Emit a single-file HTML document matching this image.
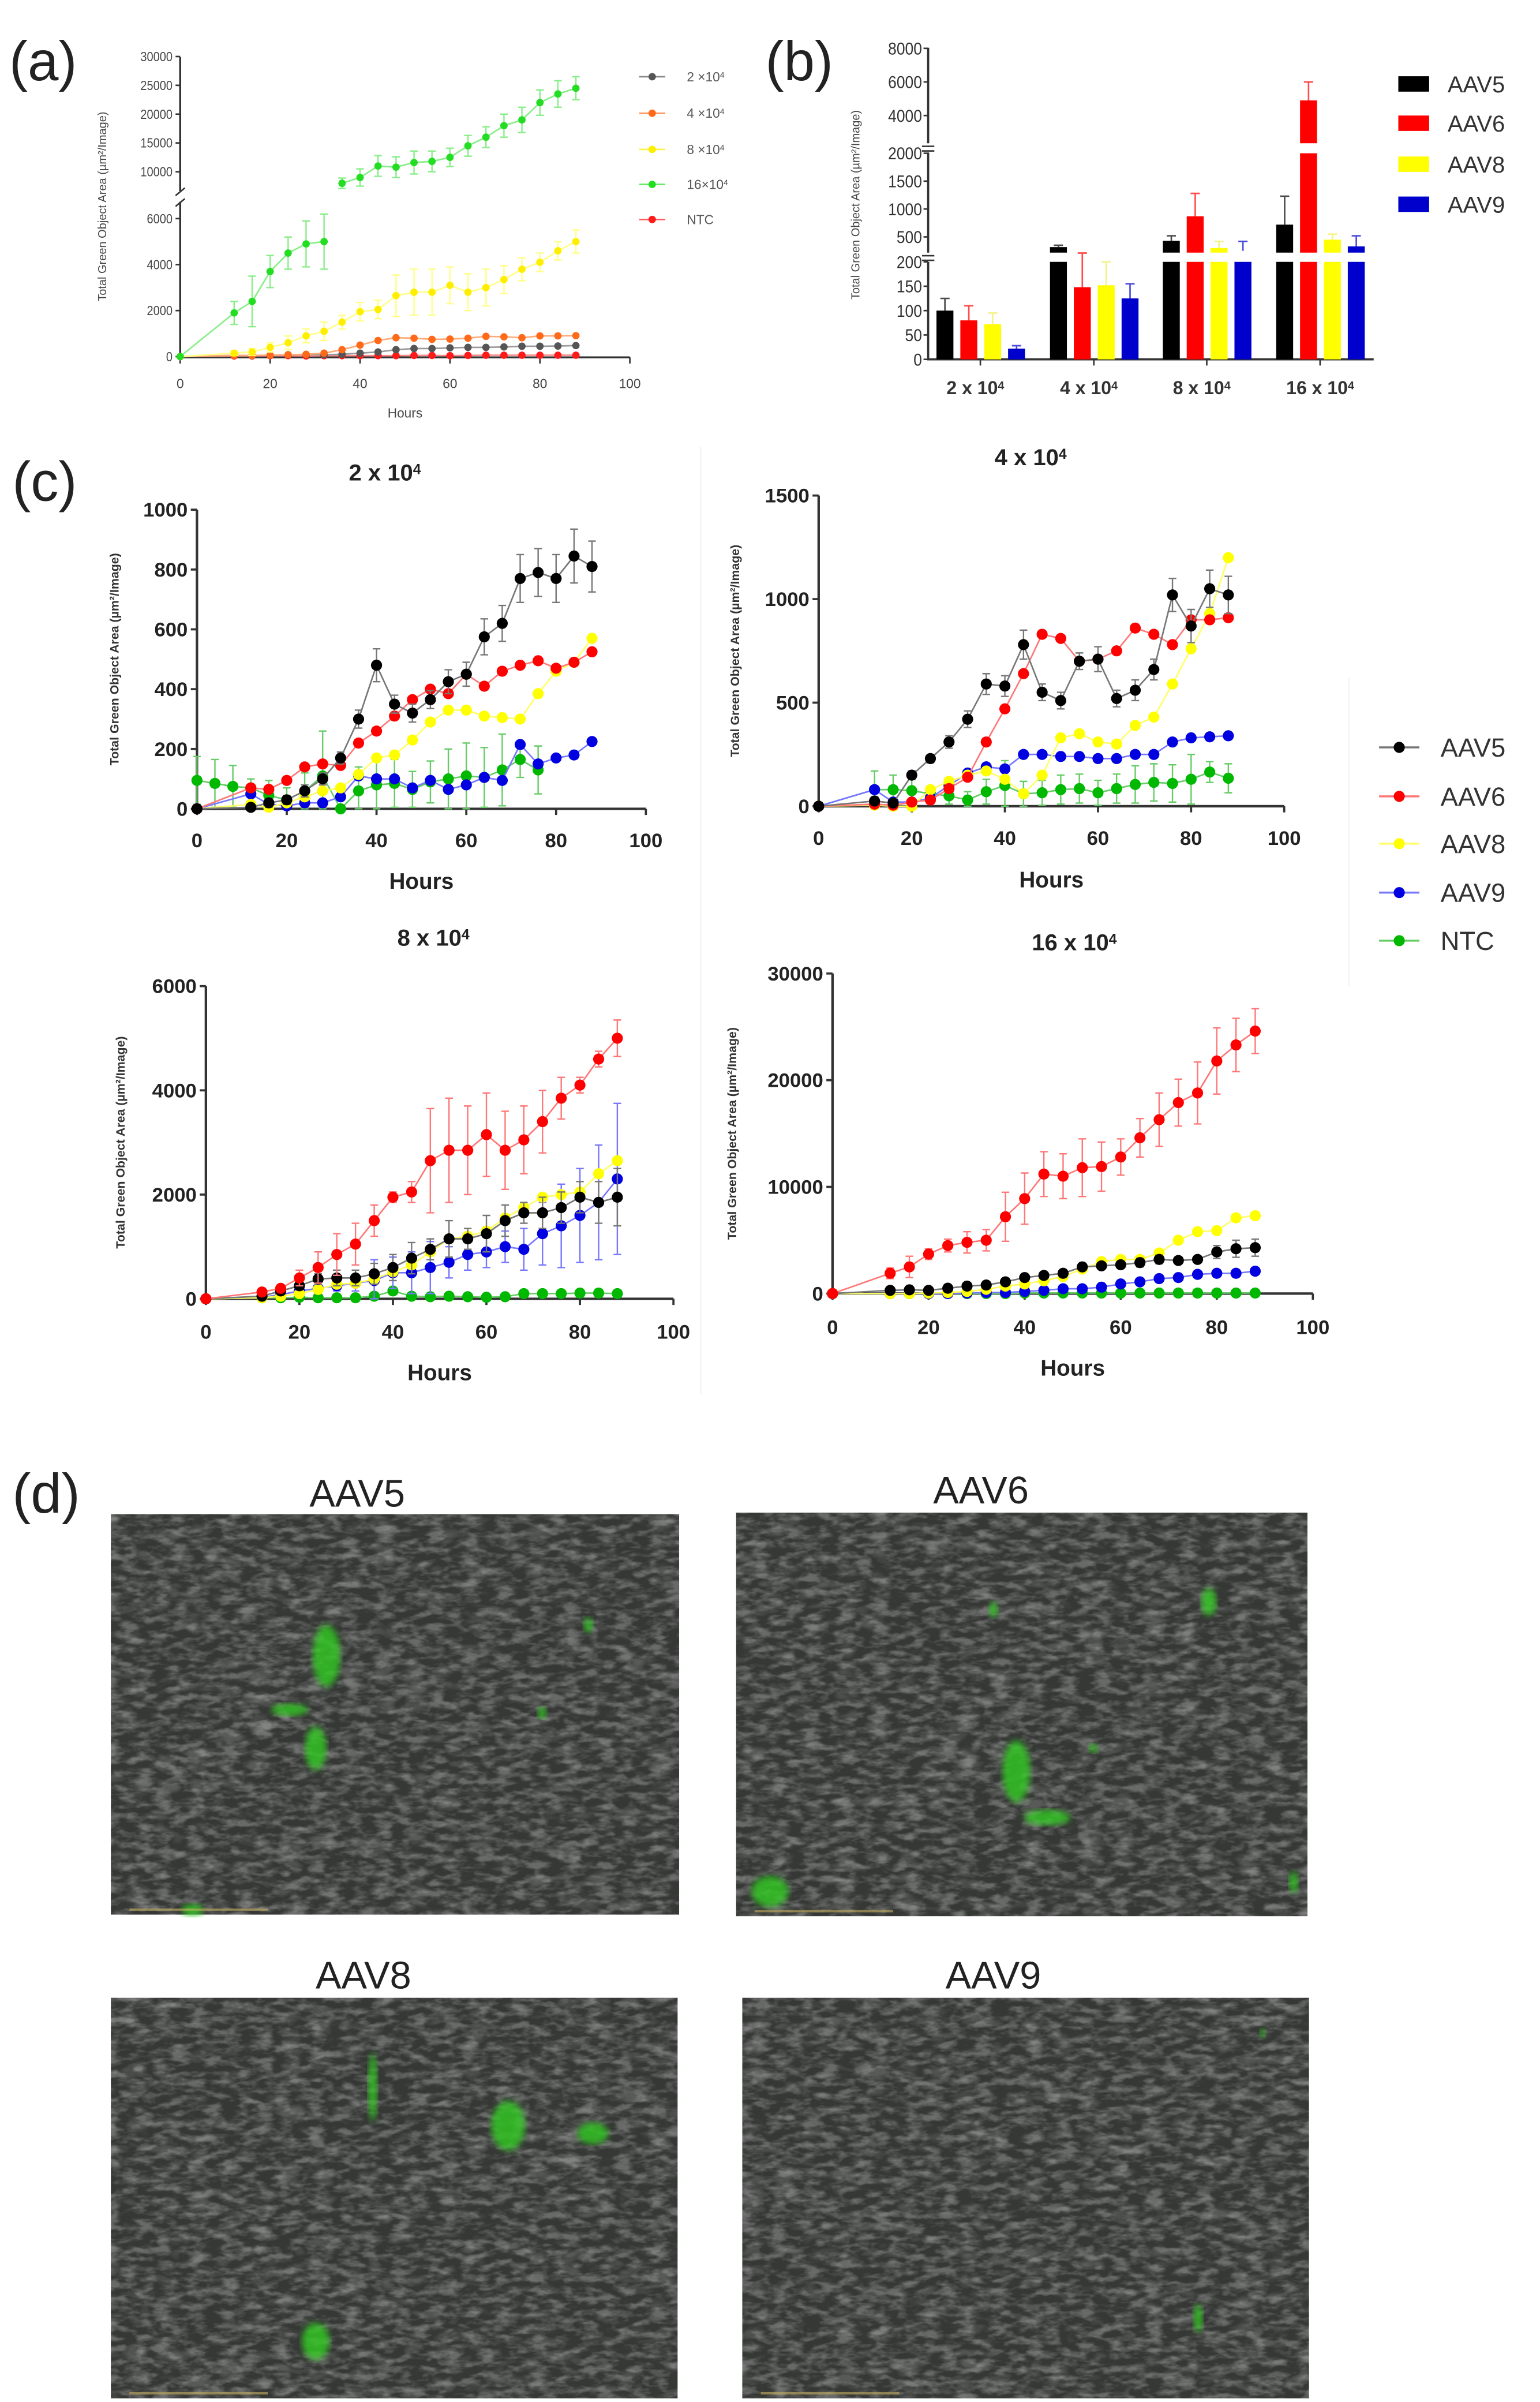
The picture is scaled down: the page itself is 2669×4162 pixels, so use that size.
<!DOCTYPE html>
<html><head><meta charset="utf-8"><title>AAV transduction figure</title>
<style>
html,body{margin:0;padding:0;background:#fff;}
svg{display:block;font-family:"Liberation Sans",sans-serif;}
</style></head>
<body>
<svg id="fig" xmlns="http://www.w3.org/2000/svg" width="2669" height="4162" viewBox="0 0 1000 1559.4" preserveAspectRatio="none">
<defs>
<filter id="tex" x="0" y="0" width="100%" height="100%" filterUnits="objectBoundingBox">
<feTurbulence type="fractalNoise" baseFrequency="0.09 0.22" numOctaves="3" seed="4" result="n"/>
<feColorMatrix in="n" type="matrix" values="0 0 0 0 0.82  0 0 0 0 0.82  0 0 0 0 0.82  3.2 0 0 0 -1.35"/>
</filter>
<filter id="tex2" x="0" y="0" width="100%" height="100%" filterUnits="objectBoundingBox">
<feTurbulence type="turbulence" baseFrequency="0.05 0.12" numOctaves="2" seed="9" result="n"/>
<feColorMatrix in="n" type="matrix" values="0 0 0 0 0.9  0 0 0 0 0.9  0 0 0 0 0.9  2.4 0 0 0 -0.55"/>
</filter>
<filter id="blur"><feGaussianBlur stdDeviation="2"/></filter>
</defs>
<g id="root"></g>
</svg>
<script>
// ---------- Panel (a) data ----------
const hoursA = [0,12,16,20,24,28,32,36,40,44,48,52,56,60,64,68,72,76,80,84,88];
const a2e4 = [0,50,40,60,80,90,80,100,150,200,300,350,350,380,400,400,420,450,450,460,480];
const a4e4 = [0,50,50,60,80,100,150,300,500,700,820,800,750,760,800,880,860,820,900,900,910];
const a8e4 = [0,150,200,400,600,900,1100,1500,1950,2050,2650,2800,2800,3100,2800,3000,3350,3800,4100,4600,5000];
const a16e4 = [0,1900,2400,3700,4500,4900,5000,8000,9000,11000,10800,11600,11800,12500,14500,16000,18000,19000,22000,23500,24500];
const aNTC = [0,30,30,40,40,30,40,40,40,40,40,50,50,40,50,60,60,60,60,60,60];
const a16e4Err = [0,500,1100,700,700,1000,1200,900,1500,1800,1800,2000,1800,1600,1800,1800,2000,2200,2200,2300,2000];
const a8e4Err = [0,100,150,200,300,300,400,300,400,400,900,1000,1000,800,800,800,600,500,400,400,500];
const aTicksY = [0,2000,4000,6000,10000,15000,20000,25000,30000];
const aTicksX = [0,20,40,60,80,100];

// ---------- Panel (b) data ----------
const bCategories = ["2 x 10","4 x 10","8 x 10","16 x 10"];
const bAAV5 = [100,317,430,720];
const bAAV6 = [80,148,870,4900];
const bAAV8 = [72,152,300,450];
const bAAV9 = [22,125,250,330];
// error bar top values
const bAAV5Err = [125,350,520,1230];
const bAAV6Err = [110,210,1280,6000];
const bAAV8Err = [95,200,420,550];
const bAAV9Err = [28,155,420,520];
const bTicks = [0,50,100,150,200,500,1000,1500,2000,4000,6000,8000];

// ---------- Panel (c) data ----------
const hoursC = [0,12,16,20,24,28,32,36,40,44,48,52,56,60,64,68,72,76,80,84,88];
// 2 x 10^4
const c1AAV5 = [0,5,20,30,60,100,170,300,480,350,320,365,425,450,575,620,770,790,770,845,810];
const c1AAV6 = [0,70,65,95,140,150,145,220,260,310,365,400,385,450,410,460,480,495,470,490,525];
const c1AAV8 = [0,15,5,20,40,60,70,115,170,180,230,290,330,330,310,305,300,385,460,490,570];
const c1AAV9 = [0,50,15,10,20,20,40,110,100,100,70,95,65,80,105,95,215,150,170,180,225];
const c1NTCHours = [0,4,8,12,16,20,24,28,32,36,40,44,48,52,56,60,64,68,72,76];
const c1NTC = [95,85,75,70,45,30,60,110,0,60,80,85,65,90,100,110,105,130,165,130];
const c1AAV5Err = [0,10,15,15,20,20,20,30,55,30,30,30,40,40,60,60,80,80,80,90,85];
const c1NTCErr = [80,80,70,30,50,40,60,150,0,80,90,80,60,70,100,110,100,120,60,80];
// 4 x 10^4
const c2AAV5 = [0,25,15,150,230,310,420,590,580,780,550,510,700,710,520,560,660,1020,870,1050,1020];
const c2AAV6 = [0,10,5,20,30,85,140,310,470,640,830,810,700,710,750,860,830,780,900,900,910];
const c2AAV8 = [0,5,0,0,80,120,150,170,130,60,150,330,350,310,300,390,430,590,760,930,1200];
const c2AAV9 = [0,80,20,20,40,100,160,190,180,250,250,240,240,230,230,250,250,310,330,335,340];
const c2NTC = [0,80,80,75,60,50,30,70,100,60,65,80,85,65,85,105,115,110,130,165,135];
const c2AAV5Err = [0,20,20,20,20,30,40,50,50,70,40,40,40,60,40,50,50,80,80,90,90];
const c2NTCErr = [0,90,70,60,30,40,40,60,120,60,60,70,70,60,70,90,90,90,120,50,70];
// 8 x 10^4
const c3AAV5 = [0,50,150,250,380,400,400,480,600,780,950,1150,1150,1250,1500,1650,1650,1750,1950,1850,1950];
const c3AAV6 = [0,130,200,400,600,850,1050,1500,1950,2050,2650,2850,2850,3150,2850,3050,3400,3850,4100,4600,5000];
const c3AAV8 = [0,20,50,100,180,280,300,380,520,650,900,1150,1200,1300,1550,1750,1950,2000,2050,2400,2650];
const c3AAV9 = [0,30,80,150,200,250,300,350,500,500,600,700,850,900,1000,950,1250,1400,1600,1850,2300];
const c3NTC = [0,20,20,30,20,20,20,50,150,50,40,50,40,30,40,100,100,100,110,110,100];
const c3AAV6Err = [0,50,60,150,300,400,400,300,100,200,1000,1000,850,800,750,650,600,400,150,150,350];
const c3AAV9Err = [0,30,50,80,100,100,150,400,300,400,500,300,300,300,300,400,600,800,900,1100,1450];
const c3AAV5Err = [0,30,60,80,100,150,150,200,250,300,200,350,200,350,300,200,300,300,300,400,550];
// 16 x 10^4
const c4AAV5 = [0,300,350,300,500,700,800,1100,1500,1700,1900,2500,2600,2700,2900,3200,3100,3200,3900,4200,4300];
const c4AAV6 = [0,1900,2500,3700,4500,4800,5000,7200,8900,11200,11000,11800,11900,12800,14600,16300,17900,18800,21800,23300,24600];
const c4AAV8 = [0,0,0,50,100,200,400,700,900,1200,1600,2300,3000,3200,3200,3800,5000,5800,5900,7100,7300];
const c4AAV9 = [0,0,0,0,0,50,100,100,200,300,450,450,600,900,1100,1400,1500,1800,1900,1900,2100];
const c4NTC = [0,0,0,0,0,0,0,0,50,50,50,50,50,50,50,50,50,50,50,50,50];
const c4AAV6Err = [0,500,1000,500,600,1000,1000,2300,2400,2100,2100,2700,2300,1700,1800,2500,2200,2900,3100,2500,2100];
const c4AAV5Err = [0,100,100,100,150,200,200,300,300,300,300,300,300,300,400,400,300,300,600,800,800];
const cTicksX = [0,20,40,60,80,100];

// ---------- helpers ----------
const NS = "http://www.w3.org/2000/svg";
const root = document.getElementById('root');
function mk(tag, attrs, name, parent, inter) {
  const e = document.createElementNS(NS, tag);
  for (const k in attrs) e.setAttribute(k, attrs[k]);
  
  
  (parent || root).appendChild(e);
  return e;
}
function txt(x, y, s, attrs, name, parent) {
  const t = mk('text', Object.assign({x: x, y: y}, attrs), name, parent);
  t.textContent = s;
  return t;
}
function supText(x, y, base, sup, attrs, name, parent) {
  const t = mk('text', Object.assign({x: x, y: y}, attrs), name, parent);
  t.appendChild(document.createTextNode(base));
  const s = document.createElementNS(NS, 'tspan');
  s.setAttribute('dy', '-0.45em');
  s.setAttribute('font-size', '0.62em');
  s.textContent = sup;
  t.appendChild(s);
  return t;
}
const COL = {AAV5:'#000000', AAV6:'#ff0000', AAV8:'#ffff00', AAV9:'#0000e0', NTC:'#00b800'};
const LINE = {AAV5:'#777777', AAV6:'#ff7777', AAV8:'#ffff66', AAV9:'#7777ff', NTC:'#66cc66'};

function series(g, xs, ys, errs, sx, sy, color, lineColor, r, name, skip) {
  let d = '';
  let pen = false;
  for (let i = 0; i < xs.length; i++) {
    if (ys[i] === null) { pen = false; continue; }
    if (skip && i > 0 && skip(ys[i-1], ys[i])) pen = false;
    d += (pen ? 'L' : 'M') + sx(xs[i]).toFixed(2) + ',' + sy(ys[i]).toFixed(2);
    pen = true;
  }
  mk('path', {d: d, fill: 'none', stroke: lineColor, 'stroke-width': 1}, name + '-line', g);
  for (let i = 0; i < xs.length; i++) {
    if (ys[i] === null) continue;
    const cx = sx(xs[i]), cy = sy(ys[i]);
    if (errs && errs[i]) {
      const y1 = sy(ys[i] + errs[i]), y2 = sy(Math.max(0, ys[i] - errs[i]));
      mk('path', {d: `M${cx},${y1}V${y2}M${cx-2.5},${y1}h5M${cx-2.5},${y2}h5`, stroke: lineColor, 'stroke-width': 0.9, fill: 'none'}, name + '-error-bar', g);
    }
    mk('circle', {cx: cx, cy: cy, r: r, fill: color}, name + '-point', g);
  }
}

function lineChart(cfg) {
  const g = mk('g', {}, cfg.name, root);
  const sx = h => cfg.x0 + (cfg.x100 - cfg.x0) * h / 100;
  const sy = v => cfg.y0 - (cfg.y0 - cfg.yTop) * v / cfg.ymax;
  mk('path', {d: `M${cfg.x0},${cfg.yTop}V${cfg.y0}H${cfg.x100}`, fill: 'none', stroke: '#333', 'stroke-width': 1.6}, 'axes', g);
  cfg.yticks.forEach(v => {
    mk('line', {x1: cfg.x0 - 4, x2: cfg.x0, y1: sy(v), y2: sy(v), stroke: '#333', 'stroke-width': 1.4}, 'y-tick', g);
    txt(cfg.x0 - 6, sy(v) + 4.5, String(v), {'font-size': 13, 'font-weight': 'bold', fill: '#222', 'text-anchor': 'end'}, 'y-tick-label', g);
  });
  cTicksX.forEach(h => {
    mk('line', {x1: sx(h), x2: sx(h), y1: cfg.y0, y2: cfg.y0 + 4, stroke: '#333', 'stroke-width': 1.4}, 'x-tick', g);
    txt(sx(h), cfg.tickY, String(h), {'font-size': 13, 'font-weight': 'bold', fill: '#222', 'text-anchor': 'middle'}, 'x-tick-label', g);
  });
  txt((cfg.x0 + cfg.x100) / 2, cfg.hoursY, 'Hours', {'font-size': 14.5, 'font-weight': 'bold', fill: '#222', 'text-anchor': 'middle'}, 'x-axis-title', g);
  supText(cfg.titleX - 28, cfg.titleY, cfg.title, '4', {'font-size': 15, 'font-weight': 'bold', fill: '#222'}, 'chart-title', g);
  txt(0, 0, 'Total Green Object Area (µm²/Image)', {'font-size': 8, 'font-weight': 'bold', fill: '#333', 'text-anchor': 'middle', transform: `translate(${cfg.ylabX},${(cfg.y0 + cfg.yTop) / 2}) rotate(-90)`}, 'y-axis-title', g);
  cfg.series.forEach(s => {
    series(g, s.x || hoursC, s.y, s.err, sx, sy, COL[s.k], LINE[s.k], 3.6, 'series-' + s.k.toLowerCase());
  });
}

// ---------- panel labels ----------
[['(a)', 6, 52], ['(b)', 497, 52], ['(c)', 8, 325], ['(d)', 8, 982]].forEach(p => {
  txt(p[1], p[2], p[0], {'font-size': 36, fill: '#222'}, 'panel-label');
});

// ---------- panel (a) ----------
(function () {
  const g = mk('g', {}, 'panel-a-chart', root);
  const x0 = 117, x100 = 409;
  const sx = h => x0 + (x100 - x0) * h / 100;
  const sy = v => v <= 6500 ? 231.5 - v * 0.01493 : 111.5 - (v - 10000) * 0.00374;
  mk('path', {d: `M${x0},37V124M${x0},131V232H${x100}`, fill: 'none', stroke: '#333', 'stroke-width': 1.3}, 'axes', g);
  mk('path', {d: `M${x0-3},127l6,-5M${x0-3},134l6,-5`, stroke: '#333', 'stroke-width': 1}, 'axis-break', g);
  aTicksY.forEach(v => {
    mk('line', {x1: x0 - 3, x2: x0, y1: sy(v), y2: sy(v), stroke: '#333', 'stroke-width': 1}, 'y-tick', g);
    txt(x0 - 5, sy(v) + 3, String(v), {'font-size': 8.5, fill: '#444', 'text-anchor': 'end', transform: `translate(${(x0-5)*0.12},0) scale(0.88,1)`}, 'y-tick-label', g);
  });
  aTicksX.forEach(h => {
    mk('line', {x1: sx(h), x2: sx(h), y1: 232, y2: 236, stroke: '#333', 'stroke-width': 1}, 'x-tick', g);
    txt(sx(h), 252, String(h), {'font-size': 8.5, fill: '#444', 'text-anchor': 'middle'}, 'x-tick-label', g);
  });
  txt(263, 271, 'Hours', {'font-size': 8.5, fill: '#444', 'text-anchor': 'middle'}, 'x-axis-title', g);
  txt(0, 0, 'Total Green Object Area (µm²/Image)', {'font-size': 7.5, fill: '#444', 'text-anchor': 'middle', transform: 'translate(69,134) rotate(-90)'}, 'y-axis-title', g);
  const brk = (a, b) => (a <= 6500) !== (b <= 6500);
  series(g, hoursA, aNTC, null, sx, sy, '#ff1a1a', '#ff8888', 2.4, 'series-ntc');
  series(g, hoursA, a2e4, null, sx, sy, '#555555', '#999999', 2.4, 'series-2e4');
  series(g, hoursA, a4e4, null, sx, sy, '#ff6a1a', '#ffaa77', 2.4, 'series-4e4');
  series(g, hoursA, a8e4, a8e4Err, sx, sy, '#ffee00', '#ffff88', 2.4, 'series-8e4');
  series(g, hoursA, a16e4, a16e4Err, sx, sy, '#22dd22', '#88ee88', 2.4, 'series-16e4', brk);
  const leg = [['2 ×10', '4', '#555555'], ['4 ×10', '4', '#ff6a1a'], ['8 ×10', '4', '#ffee00'], ['16×10', '4', '#22dd22'], ['NTC', '', '#ff1a1a']];
  const ly = [49.8, 73.5, 97, 119.7, 142.5];
  leg.forEach((l, i) => {
    const lg = mk('g', {}, 'legend-entry', g);
    mk('line', {x1: 415, x2: 432, y1: ly[i], y2: ly[i], stroke: l[2], 'stroke-width': 1, opacity: 0.7}, 'legend-line', lg);
    mk('circle', {cx: 423.5, cy: ly[i], r: 2.4, fill: l[2]}, 'legend-marker', lg);
    if (l[1]) supText(446, ly[i] + 3, l[0], l[1], {'font-size': 8.5, fill: '#555'}, 'legend-label', lg);
    else txt(446, ly[i] + 3, l[0], {'font-size': 8.5, fill: '#555'}, 'legend-label', lg);
  });
})();

// ---------- panel (b) ----------
(function () {
  const g = mk('g', {}, 'panel-b-chart', root);
  const xa = 602.7, yb = 233.3;
  const ySeg1 = v => yb - v * 0.3165;
  const ySeg2 = v => 153.8 - (v - 500) * 0.0362;
  const ySeg3 = v => 75 - (v - 4000) * 0.0109;
  const sy = v => v <= 200 ? ySeg1(v) : (v <= 2100 ? ySeg2(v) : ySeg3(v));
  mk('path', {d: `M${xa},31V93M${xa},99V164M${xa},170V${yb}H892`, fill: 'none', stroke: '#333', 'stroke-width': 1.4}, 'axes', g);
  mk('path', {d: `M${xa-4},95h8M${xa-4},98h8M${xa-4},166h8M${xa-4},169h8`, stroke: '#333', 'stroke-width': 1}, 'axis-break', g);
  bTicks.forEach(v => {
    mk('line', {x1: xa - 3, x2: xa, y1: sy(v), y2: sy(v), stroke: '#333', 'stroke-width': 1}, 'y-tick', g);
    txt(xa - 4, sy(v) + 4, String(v), {'font-size': 11, fill: '#333', 'text-anchor': 'end', transform: `translate(${(xa-4)*0.1},0) scale(0.9,1)`}, 'y-tick-label', g);
  });
  txt(0, 0, 'Total Green Object Area (µm²/Image)', {'font-size': 7.5, fill: '#444', 'text-anchor': 'middle', transform: 'translate(558,133) rotate(-90)'}, 'y-axis-title', g);
  const centers = [636.6, 710.3, 783.6, 857.2];
  const sets = [[bAAV5, bAAV5Err, '#000000', 'aav5'], [bAAV6, bAAV6Err, '#ff0000', 'aav6'], [bAAV8, bAAV8Err, '#ffff00', 'aav8'], [bAAV9, bAAV9Err, '#0000cc', 'aav9']];
  const segs = [[0, 200, yb, 170], [250, 2000, 164, 99.5], [2350, 8000, 93, 31]];
  centers.forEach((c, ci) => {
    mk('line', {x1: c, x2: c, y1: yb, y2: yb + 4, stroke: '#333', 'stroke-width': 1}, 'x-tick', g);
    supText(c - 22, 256, bCategories[ci], '4', {'font-size': 12, 'font-weight': 'bold', fill: '#333'}, 'x-tick-label', g);
    sets.forEach((s, si) => {
      const v = s[0][ci], e = s[1][ci];
      const bx = c - 23 + si * 15.5 - 5.5;
      segs.forEach(sg => {
        if (v <= sg[0]) return;
        const top = v >= sg[1] ? sg[3] : sy(v);
        mk('rect', {x: bx, y: top, width: 11, height: sg[2] - top, fill: s[2]}, 'bar-' + s[3], g);
      });
      const ye = sy(e), yv = sy(v);
      mk('path', {d: `M${bx+5.5},${yv}V${ye}M${bx+2.5},${ye}h6`, stroke: s[2] === '#ffff00' ? '#eeee55' : s[2], 'stroke-width': 1, fill: 'none', opacity: 0.7}, 'error-bar-' + s[3], g);
    });
  });
  const leg = [['AAV5', '#000000', 54.5], ['AAV6', '#ff0000', 80], ['AAV8', '#ffff00', 106.6], ['AAV9', '#0000cc', 132.6]];
  leg.forEach(l => {
    const lg = mk('g', {}, 'legend-entry', g);
    mk('rect', {x: 908, y: l[2] - 5, width: 20, height: 10, fill: l[1]}, 'legend-swatch', lg);
    txt(940, l[2] + 5.5, l[0], {'font-size': 15, fill: '#333'}, 'legend-label', lg);
  });
})();

// ---------- panel (c) ----------
mk('line', {x1: 455, x2: 455, y1: 290, y2: 905, stroke: '#f4f4f4', 'stroke-width': 1}, 'panel-divider');
mk('line', {x1: 876, x2: 876, y1: 440, y2: 640, stroke: '#f4f4f4', 'stroke-width': 1}, 'panel-divider');
lineChart({name: 'chart-2e4', title: '2 x 10', titleX: 254.5, titleY: 312, x0: 127.9, x100: 419.4, y0: 525.1, yTop: 330.9, ymax: 1000, yticks: [0,200,400,600,800,1000], tickY: 550, hoursY: 577, ylabX: 77,
  series: [{k: 'NTC', y: c1NTC, x: c1NTCHours, err: c1NTCErr}, {k: 'AAV9', y: c1AAV9}, {k: 'AAV8', y: c1AAV8}, {k: 'AAV6', y: c1AAV6}, {k: 'AAV5', y: c1AAV5, err: c1AAV5Err}]});
lineChart({name: 'chart-4e4', title: '4 x 10', titleX: 673.8, titleY: 302, x0: 531.6, x100: 833.9, y0: 523.4, yTop: 321.7, ymax: 1500, yticks: [0,500,1000,1500], tickY: 548.5, hoursY: 576, ylabX: 480,
  series: [{k: 'NTC', y: c2NTC, err: c2NTCErr}, {k: 'AAV9', y: c2AAV9}, {k: 'AAV8', y: c2AAV8}, {k: 'AAV6', y: c2AAV6}, {k: 'AAV5', y: c2AAV5, err: c2AAV5Err}]});
lineChart({name: 'chart-8e4', title: '8 x 10', titleX: 286, titleY: 614, x0: 133.7, x100: 437.3, y0: 843.2, yTop: 640.2, ymax: 6000, yticks: [0,2000,4000,6000], tickY: 869, hoursY: 896, ylabX: 81,
  series: [{k: 'NTC', y: c3NTC}, {k: 'AAV9', y: c3AAV9, err: c3AAV9Err}, {k: 'AAV8', y: c3AAV8}, {k: 'AAV5', y: c3AAV5, err: c3AAV5Err}, {k: 'AAV6', y: c3AAV6, err: c3AAV6Err}]});
lineChart({name: 'chart-16e4', title: '16 x 10', titleX: 698, titleY: 617, x0: 540.6, x100: 852.5, y0: 839.8, yTop: 632, ymax: 30000, yticks: [0,10000,20000,30000], tickY: 866, hoursY: 893, ylabX: 478,
  series: [{k: 'NTC', y: c4NTC}, {k: 'AAV9', y: c4AAV9}, {k: 'AAV8', y: c4AAV8}, {k: 'AAV5', y: c4AAV5, err: c4AAV5Err}, {k: 'AAV6', y: c4AAV6, err: c4AAV6Err}]});
(function () {
  const g = mk('g', {}, 'legend-c', root);
  const rows = [['AAV5', 485.2], ['AAV6', 517], ['AAV8', 547.7], ['AAV9', 579.5], ['NTC', 610.7]];
  rows.forEach(r => {
    const lg = mk('g', {}, 'legend-entry', g);
    mk('line', {x1: 895.5, x2: 921.7, y1: r[1], y2: r[1], stroke: LINE[r[0]], 'stroke-width': 1.3}, 'legend-line', lg);
    mk('circle', {cx: 908.6, cy: r[1], r: 3.6, fill: COL[r[0]]}, 'legend-marker', lg);
    txt(935.4, r[1] + 6, r[0], {'font-size': 17, fill: '#333'}, 'legend-label', lg);
  });
})();

// ---------- panel (d) micrographs ----------
(function () {
  const imgs = [
    ['AAV5', 232, 978, 72, 983, 369, 260, [[212,1075,9,20],[205,1135,7,14],[188,1110,12,4],[125,1240,7,4],[352,1112,3,4],[382,1055,3,5]]],
    ['AAV6', 637, 976, 478, 982, 371, 262, [[660,1150,9,20],[680,1180,15,5],[500,1228,12,10],[785,1040,5,9],[645,1045,3,5],[840,1222,3,7],[710,1135,3,3]]],
    ['AAV8', 236, 1291, 72, 1297, 368, 260, [[242,1355,3,22],[330,1380,11,16],[385,1385,10,7],[205,1520,9,12]]],
    ['AAV9', 645, 1291, 482, 1297, 368, 260, [[778,1505,3,9],[820,1320,2,3]]]
  ];
  imgs.forEach(im => {
    const g = mk('g', {}, 'micrograph-' + im[0].toLowerCase(), root);
    txt(im[1], im[2], im[0], {'font-size': 25, fill: '#222', 'text-anchor': 'middle'}, 'micrograph-title', g);
    mk('rect', {x: im[3], y: im[4], width: im[5], height: im[6], fill: '#363836'}, 'micrograph-background', g);
    mk('rect', {x: im[3], y: im[4], width: im[5], height: im[6], fill: '#fff', filter: 'url(#tex)', opacity: 0.28}, 'cell-texture', g);
    mk('rect', {x: im[3], y: im[4], width: im[5], height: im[6], fill: '#fff', filter: 'url(#tex2)', opacity: 0.18}, 'cell-texture', g);
    im[7].forEach(b => {
      mk('ellipse', {cx: b[0], cy: b[1], rx: b[2], ry: b[3], fill: '#33cc22', opacity: 0.8, filter: 'url(#blur)'}, 'gfp-cell', g);
    });
    mk('rect', {x: im[3] + 12, y: im[4] + im[6] - 4, width: 90, height: 1.5, fill: '#c8b060', opacity: 0.6}, 'scale-bar', g);
  });
})();
</script>
</body></html>
